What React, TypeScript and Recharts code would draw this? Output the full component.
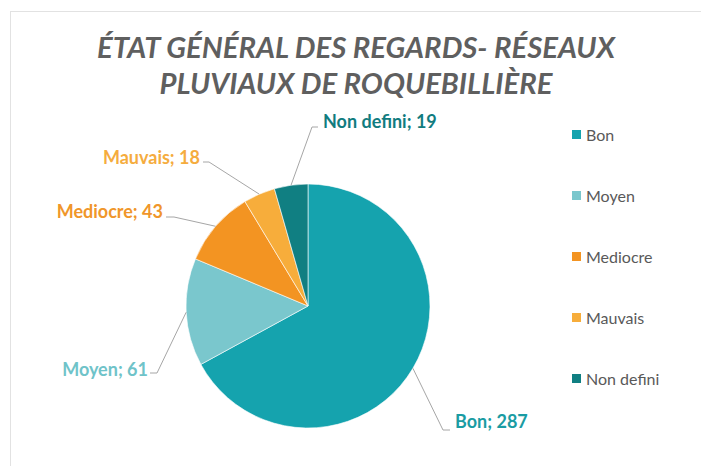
import { PieChart, Pie, Cell, Legend } from 'recharts';

const categories = ['Bon', 'Moyen', 'Mediocre', 'Mauvais', 'Non defini'];
const counts = [287, 61, 43, 18, 19];
const titleLines = ['ÉTAT GÉNÉRAL DES REGARDS- RÉSEAUX', 'PLUVIAUX DE ROQUEBILLIÈRE'];

const sliceColors = ['#15a3ae', '#7ac7cd', '#f39422', '#f7ad3b', '#107f82'];
const labelColors = ['#1a9ca3', '#6fc3c9', '#f0962a', '#f5ac3e', '#117c7f'];

// label placement relative to pie centre (elbow, stub end, text anchor)
const labelLayout = [
  { elbow: [135, 124], stub: [142, 124], text: [147, 116], anchor: 'start' },
  { elbow: [-151, 67], stub: [-158, 67], text: [-160, 64], anchor: 'end' },
  { elbow: [-134, -89], stub: [-142, -89], text: [-145, -94], anchor: 'end' },
  { elbow: [-99, -144], stub: [-105, -144], text: [-108, -148], anchor: 'end' },
  { elbow: [4, -179], stub: [10, -179], text: [15, -184], anchor: 'start' },
];

const data = categories.map((name, i) => ({ name, value: counts[i] }));
const RAD = Math.PI / 180;
const FONT = 'Lato, "Open Sans", sans-serif';

const renderLabel = (p: any) => {
  const { cx, cy, midAngle, outerRadius, index, name, value } = p;
  const l = labelLayout[index];
  const ex = cx + outerRadius * Math.cos(-midAngle * RAD);
  const ey = cy + outerRadius * Math.sin(-midAngle * RAD);
  return (
    <g key={`lbl-${index}`}>
      <path
        d={`M${ex},${ey}L${cx + l.elbow[0]},${cy + l.elbow[1]}L${cx + l.stub[0]},${cy + l.stub[1]}`}
        stroke="#a6a6a6" strokeWidth={1} fill="none"
      />
      <text
        x={cx + l.text[0]} y={cy + l.text[1] + 6}
        textAnchor={l.anchor as any}
        fill={labelColors[index]}
        fontFamily={FONT} fontWeight={700} fontSize={18}
      >
        {`${name}; ${value}`}
      </text>
    </g>
  );
};

const renderLegend = () => (
  <div style={{ fontFamily: FONT }}>
    {categories.map((c, i) => (
      <div key={c} style={{ display: 'flex', alignItems: 'center', height: 61, color: '#595959', fontSize: 16 }}>
        <span style={{ width: 9, height: 9, background: sliceColors[i], marginRight: 5, display: 'inline-block' }} />
        {c}
      </div>
    ))}
  </div>
);

export default function App() {
  return (
    <div style={{ position: 'absolute', left: 0, top: 0, width: 701, height: 466, background: '#fff', overflow: 'hidden' }}>
      <div style={{ position: 'absolute', left: 10, top: 11, width: 720, height: 480, borderTop: '1px solid #e2e2e2', borderLeft: '1px solid #e2e2e2' }} />
      <svg width={701} height={110} style={{ position: 'absolute', left: 0, top: 0 }}>
        {titleLines.map((t, i) => (
          <text
            key={t} x={356} y={58 + i * 36} textAnchor="middle"
            fontFamily={FONT} fontStyle="italic" fontWeight={700} fontSize={28} fill="#5f5f5f"
            textLength={i === 0 ? 518 : 393} lengthAdjust="spacingAndGlyphs"
          >
            {t}
          </text>
        ))}
      </svg>
      <div style={{ position: 'absolute', left: 0, top: 0 }}>
        <PieChart width={701} height={466} margin={{ top: 0, right: 0, bottom: 0, left: 0 }}>
          <Pie
            data={data} dataKey="value" nameKey="name"
            cx={308} cy={306} outerRadius={122}
            startAngle={90} endAngle={-270}
            stroke="#ffffff" strokeWidth={0.6}
            label={renderLabel} labelLine={false}
            isAnimationActive={false}
          >
            {data.map((d, i) => <Cell key={d.name} fill={sliceColors[i]} />)}
          </Pie>
          <Legend
            layout="vertical" align="right" verticalAlign="top"
            content={renderLegend}
            wrapperStyle={{ left: 572, top: 104, width: 130 }}
          />
        </PieChart>
      </div>
    </div>
  );
}
